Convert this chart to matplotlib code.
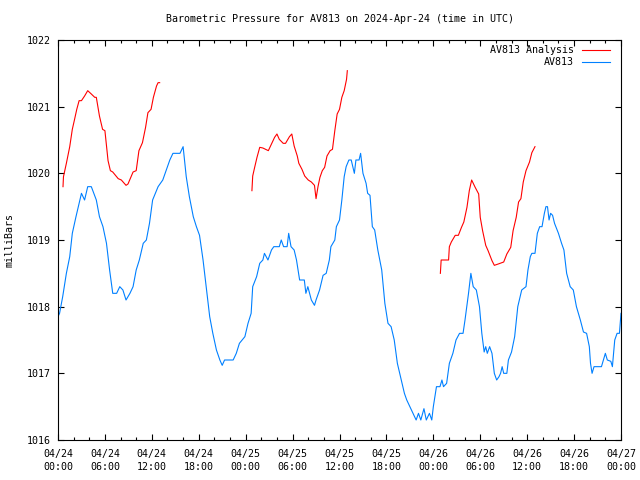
import matplotlib
matplotlib.use("Agg")
import matplotlib.pyplot as plt
from matplotlib.lines import Line2D
import numpy as np

# ---- data (hours since 2024-04-24 00:00 UTC, pressure in mb) ----
blue_hours = [0.0, 0.2, 0.6, 1.07, 1.5, 1.83, 2.3, 2.8, 3.0, 3.4, 3.8, 4.26, 4.9, 5.3, 5.75, 6.2,
              6.6, 7.0, 7.5, 7.9, 8.3, 8.7, 9.2, 9.6, 10.0, 10.4, 10.9, 11.3, 11.7, 12.1, 12.8,
              13.4, 13.85, 14.3, 14.7, 15.6, 16.0, 16.4, 16.8, 17.3, 17.7, 18.1, 18.55, 19.0,
              19.4, 19.8, 20.26, 20.7, 21.0, 21.3, 22.4, 22.8, 23.2, 23.9, 24.3, 24.7, 24.9,
              25.4, 25.8, 26.2, 26.4, 26.85, 27.3, 27.6, 28.3, 28.55, 28.85, 29.3, 29.5, 29.8,
              30.2, 30.5, 30.9, 31.5, 31.7, 31.95, 32.4, 32.8, 33.0, 33.45, 33.9, 34.3, 34.7,
              34.9, 35.4, 35.6, 36.0, 36.3, 36.6, 36.85, 37.2, 37.5, 37.9, 38.1, 38.5, 38.7,
              39.0, 39.4, 39.6, 39.9, 40.2, 40.5, 40.9, 41.4, 41.8, 42.2, 42.6, 43.0, 43.4,
              43.9, 44.3, 44.6, 45.0, 45.4, 45.8, 46.1, 46.4, 46.8, 47.1, 47.5, 47.8, 48.0,
              48.4, 48.85, 49.1, 49.3, 49.7, 50.05, 50.5, 50.9, 51.35, 51.8, 52.05, 52.5, 52.8,
              53.1, 53.5, 53.9, 54.2, 54.5, 54.7, 54.9, 55.2, 55.5, 55.8, 56.1, 56.4, 56.6,
              56.8, 57.0, 57.4, 57.6, 58.0, 58.4, 58.8, 59.3, 59.85, 60.1, 60.4, 60.6, 61.0,
              61.3, 61.6, 61.9, 62.2, 62.4, 62.6, 62.8, 63.0, 63.25, 63.5, 64.0, 64.4, 64.7,
              65.05, 65.5, 65.9, 66.3, 66.8, 67.2, 67.6, 67.95, 68.1, 68.3, 68.55, 69.5, 70.0,
              70.25, 70.7, 70.9, 71.2, 71.5, 71.8, 72.0]
blue_values = [1017.85, 1017.9, 1018.15, 1018.5, 1018.75, 1019.1, 1019.35, 1019.6, 1019.7,
               1019.6, 1019.8, 1019.8, 1019.6, 1019.35, 1019.2, 1018.95, 1018.55, 1018.2,
               1018.2, 1018.3, 1018.25, 1018.1, 1018.2, 1018.3, 1018.55, 1018.7, 1018.95,
               1019.0, 1019.25, 1019.6, 1019.8, 1019.9, 1020.05, 1020.2, 1020.3, 1020.3,
               1020.4, 1019.95, 1019.65, 1019.35, 1019.2, 1019.07, 1018.7, 1018.25, 1017.85,
               1017.6, 1017.35, 1017.2, 1017.12, 1017.2, 1017.2, 1017.3, 1017.45, 1017.55,
               1017.75, 1017.9, 1018.3, 1018.45, 1018.65, 1018.7, 1018.8, 1018.7, 1018.85,
               1018.9, 1018.9, 1019.0, 1018.9, 1018.9, 1019.1, 1018.9, 1018.85, 1018.7,
               1018.4, 1018.4, 1018.2, 1018.3, 1018.1, 1018.02, 1018.1, 1018.25, 1018.47,
               1018.5, 1018.7, 1018.9, 1019.0, 1019.2, 1019.3, 1019.6, 1019.95, 1020.1,
               1020.2, 1020.2, 1020.0, 1020.2, 1020.2, 1020.3, 1020.0, 1019.85, 1019.7,
               1019.67, 1019.2, 1019.15, 1018.85, 1018.55, 1018.05, 1017.75, 1017.7, 1017.5,
               1017.15, 1016.9, 1016.7, 1016.6, 1016.5, 1016.4, 1016.3, 1016.4, 1016.3,
               1016.47, 1016.3, 1016.4, 1016.3, 1016.5, 1016.8, 1016.8, 1016.9, 1016.8,
               1016.85, 1017.15, 1017.3, 1017.5, 1017.6, 1017.6, 1017.8, 1018.2, 1018.5,
               1018.3, 1018.25, 1018.0, 1017.6, 1017.32, 1017.4, 1017.3, 1017.4, 1017.3,
               1017.0, 1016.9, 1016.95, 1017.0, 1017.1, 1017.0, 1017.0, 1017.2, 1017.32,
               1017.55, 1018.0, 1018.25, 1018.3, 1018.55, 1018.75, 1018.8, 1018.8, 1019.1,
               1019.2, 1019.2, 1019.4, 1019.5, 1019.5, 1019.3, 1019.4, 1019.37, 1019.25,
               1019.1, 1018.95, 1018.85, 1018.5, 1018.3, 1018.25, 1018.0, 1017.8, 1017.62,
               1017.6, 1017.4, 1017.15, 1017.0, 1017.1, 1017.1, 1017.3, 1017.2, 1017.18,
               1017.1, 1017.5, 1017.6, 1017.6, 1017.9]

red1_hours = [0.64, 0.7, 1.07, 1.5, 1.83, 2.1, 2.4, 2.7, 3.0, 3.4, 3.8, 4.26, 4.7, 4.9, 5.3,
              5.7, 6.0, 6.4, 6.7, 7.0, 7.7, 8.1, 8.7, 8.95, 9.6, 10.0, 10.35, 10.8, 11.2, 11.5,
              11.9, 12.2, 12.6, 12.8, 13.0]
red1_values = [1019.8, 1019.95, 1020.15, 1020.4, 1020.66, 1020.8, 1020.96, 1021.09, 1021.09,
               1021.16, 1021.24, 1021.19, 1021.14, 1021.14, 1020.86, 1020.66, 1020.64,
               1020.19, 1020.04, 1020.02, 1019.92, 1019.9, 1019.82, 1019.84, 1020.02,
               1020.04, 1020.34, 1020.46, 1020.69, 1020.91, 1020.96, 1021.14, 1021.31,
               1021.36, 1021.36]
red2_hours = [24.8, 24.9, 25.15, 25.45, 25.8, 26.2, 26.55, 26.9, 27.3, 27.7, 28.0, 28.3, 28.8,
              29.1, 29.6, 29.9, 30.2, 30.6, 30.8, 31.2, 31.55, 32.0, 32.4, 32.8, 33.0, 33.25,
              33.5, 33.8, 34.1, 34.4, 34.8, 35.1, 35.4, 35.7, 36.0, 36.3, 36.6, 36.9, 37.0]
red2_values = [1019.74, 1019.96, 1020.09, 1020.24, 1020.39, 1020.38, 1020.36, 1020.34,
               1020.44, 1020.54, 1020.59, 1020.51, 1020.45, 1020.45, 1020.55, 1020.59,
               1020.41, 1020.26, 1020.15, 1020.06, 1019.96, 1019.9, 1019.87, 1019.82,
               1019.62, 1019.8, 1019.94, 1020.04, 1020.09, 1020.26, 1020.34, 1020.36,
               1020.64, 1020.89, 1020.96, 1021.14, 1021.24, 1021.41, 1021.54]
red3_hours = [48.9, 49.0, 49.95, 50.05, 50.3, 50.8, 51.2, 51.6, 51.9, 52.3, 52.6, 52.9, 53.35,
              53.8, 54.0, 54.3, 54.7, 55.0, 55.5, 55.8, 56.3, 57.0, 57.4, 57.9, 58.2, 58.6,
              58.9, 59.2, 59.5, 59.85, 60.3, 60.6, 61.0]
red3_values = [1018.5, 1018.7, 1018.7, 1018.9, 1018.97, 1019.07, 1019.07, 1019.19, 1019.27,
               1019.49, 1019.74, 1019.9, 1019.79, 1019.69, 1019.34, 1019.14, 1018.92,
               1018.84, 1018.69, 1018.62, 1018.64, 1018.67, 1018.79, 1018.89, 1019.14,
               1019.34, 1019.57, 1019.62, 1019.87, 1020.04, 1020.17, 1020.31, 1020.4]

x_tick_hours = [0, 6, 12, 18, 24, 30, 36, 42, 48, 54, 60, 66, 72]
x_tick_labels = ["04/24\n00:00", "04/24\n06:00", "04/24\n12:00", "04/24\n18:00",
                 "04/25\n00:00", "04/25\n06:00", "04/25\n12:00", "04/25\n18:00",
                 "04/26\n00:00", "04/26\n06:00", "04/26\n12:00", "04/26\n18:00",
                 "04/27\n00:00"]
y_ticks = [1016, 1017, 1018, 1019, 1020, 1021, 1022]

title = "Barometric Pressure for AV813 on 2024-Apr-24 (time in UTC)"
ylabel = "milliBars"
label_red = "AV813 Analysis"
label_blue = "AV813"

RED = "#ff0000"
BLUE = "#0080ff"
FONT = "DejaVu Sans Mono"
FS = 7.2

plt.rcParams["font.family"] = FONT

fig = plt.figure(figsize=(6.4, 4.8), dpi=100)
ax = fig.add_axes([58 / 640, 40 / 480, 563 / 640, 400 / 480])

lw = 0.8
for hx, hv in [(red1_hours, red1_values), (red2_hours, red2_values), (red3_hours, red3_values)]:
    ax.plot(hx, hv, color=RED, lw=lw)
ax.plot(blue_hours, blue_values, color=BLUE, lw=lw)

ax.set_xlim(0, 72)
ax.set_ylim(1016, 1022)
ax.set_xticks(x_tick_hours)
ax.set_xticklabels(x_tick_labels, fontsize=FS, linespacing=1.35)
ax.set_xticks(np.arange(0, 73, 2), minor=True)
ax.set_yticks(y_ticks)
ax.set_yticklabels([str(v) for v in y_ticks], fontsize=FS)

ax.tick_params(which="both", direction="in", top=True, right=True, width=0.8, color="black")
ax.tick_params(which="major", length=4.5)
ax.tick_params(which="minor", length=2.5)
ax.tick_params(axis="x", which="major", pad=6.5)
ax.tick_params(axis="y", which="major", pad=5)
for s in ax.spines.values():
    s.set_linewidth(0.8)

fig.text(339.5 / 640, 1 - 19 / 480, title, ha="center", va="center", fontsize=FS)
fig.text(10 / 640, 0.5, ylabel, rotation=90, ha="center", va="center", fontsize=FS)

# legend (manual, right-aligned text like gnuplot)
for yy, lab, col in [(0.975, label_red, RED), (0.945, label_blue, BLUE)]:
    ax.text(0.9165, yy, lab, transform=ax.transAxes, ha="right", va="center", fontsize=FS)
    ax.add_line(Line2D([0.9307, 0.9805], [yy, yy], transform=ax.transAxes, color=col, lw=lw))

fig.savefig("out.png", dpi=100)
